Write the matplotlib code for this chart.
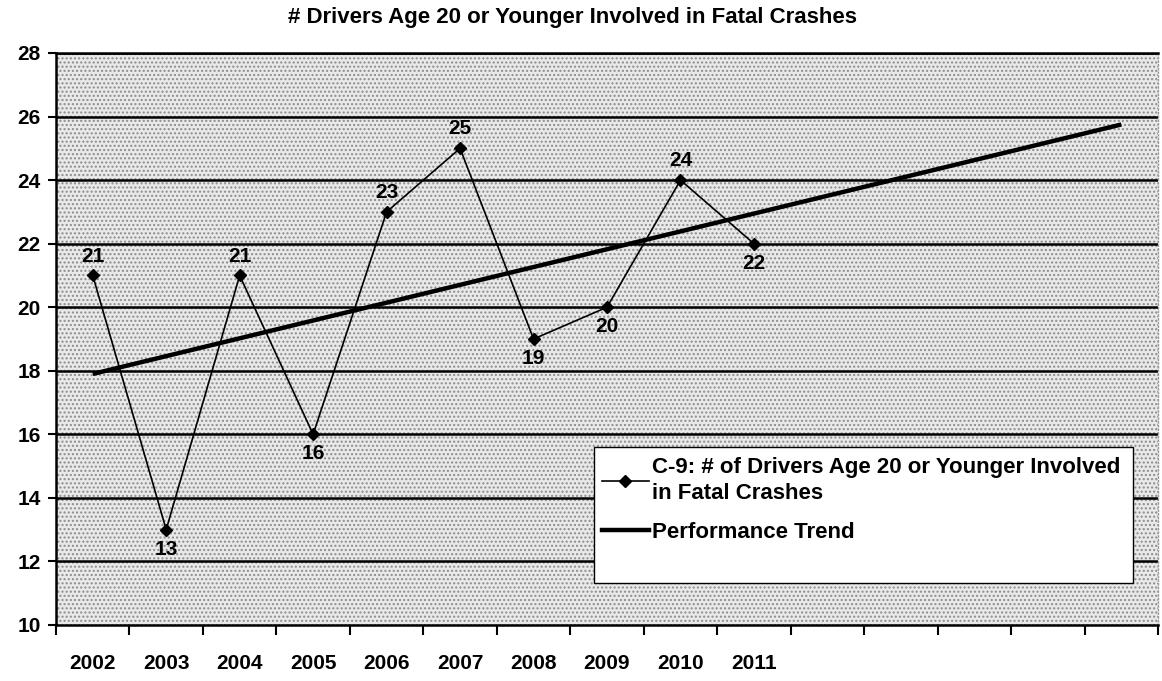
import matplotlib
matplotlib.use("Agg")
import matplotlib.pyplot as plt
from matplotlib.patches import Rectangle
from matplotlib.lines import Line2D

# dados
years = ["2002", "2003", "2004", "2005", "2006", "2007", "2008", "2009", "2010", "2011"]
n_slots = 15  # eixo com 15 categorias, so 10 com rotulo
drivers = [21, 13, 21, 16, 23, 25, 19, 20, 24, 22]
label_above = [True, False, True, False, True, True, False, False, True, False]
trend_x = [0, 14]
trend_y = [17.9, 25.75]

plt.rcParams['font.family'] = ['Liberation Sans', 'DejaVu Sans']
plt.rcParams['font.weight'] = 'bold'
plt.rcParams['hatch.linewidth'] = 1.0

W, H = 1162, 681
fig = plt.figure(figsize=(W / 100, H / 100), dpi=100)
fig.patch.set_facecolor('white')

left, right, top, bottom = 56, 1158, 53, 625
ax = fig.add_axes([left / W, 1 - bottom / H, (right - left) / W, (bottom - top) / H])

# fundo pontilhado
ax.set_facecolor('#e9e9e9')
ax.add_patch(Rectangle((0, 0), 1, 1, transform=ax.transAxes, facecolor='none',
                       edgecolor='#8c8c8c', hatch='....', lw=0, zorder=0))

ax.set_xlim(-0.5, n_slots - 0.5)
ax.set_ylim(10, 28)

# grade horizontal preta
for y in range(12, 29, 2):
    ax.axhline(y, color='black', lw=1.8, zorder=1)

x = list(range(len(years)))
ax.plot(x, drivers, color='black', lw=1.2, marker='D', markersize=6, zorder=3)
ax.plot(trend_x, trend_y, color='black', lw=3.2, zorder=2, solid_capstyle='butt')

for xi, v, up in zip(x, drivers, label_above):
    ax.annotate(str(v), (xi, v), textcoords='offset points',
                xytext=(0, 14 if up else -14), ha='center', va='center',
                fontsize=15, fontweight='bold', zorder=4)

# eixos
ax.set_yticks(range(10, 29, 2))
ax.tick_params(axis='y', length=6, width=1.5, direction='out', labelsize=15, pad=5)
ax.set_xticks([i - 0.5 for i in range(n_slots + 1)])
ax.set_xticklabels([])
ax.set_xticks(range(n_slots), minor=True)
ax.set_xticklabels(years + [''] * (n_slots - len(years)), minor=True, fontsize=15)
ax.tick_params(axis='x', which='major', length=7, width=1.5, direction='out')
ax.tick_params(axis='x', which='minor', length=0, pad=21)

for s in ['left', 'bottom', 'top']:
    ax.spines[s].set_color('black')
    ax.spines[s].set_linewidth(1.8)
ax.spines['right'].set_color('#999999')
ax.spines['right'].set_linestyle(':')
ax.spines['right'].set_linewidth(1)

fig.text(572 / W, 1 - 18 / H, '# Drivers Age 20 or Younger Involved in Fatal Crashes',
         ha='center', va='center', fontsize=16, fontweight='bold')

# caixa da legenda (maior que o conteudo, como no original)
box_l, box_t, box_r, box_b = 594, 447, 1133, 583
fig.patches.append(Rectangle((box_l / W, 1 - box_b / H), (box_r - box_l) / W, (box_b - box_t) / H,
                             transform=fig.transFigure, facecolor='white', edgecolor='black',
                             lw=1.0, zorder=4))

handles = [
    Line2D([], [], color='black', lw=1.2, marker='D', markersize=6),
    Line2D([], [], color='black', lw=3.2),
]
labels = ['C-9: # of Drivers Age 20 or Younger Involved\nin Fatal Crashes', 'Performance Trend']
leg = fig.legend(handles, labels, loc='upper left', bbox_to_anchor=(602 / W, 1 - 457 / H),
                 bbox_transform=fig.transFigure, fontsize=16, frameon=False,
                 handlelength=2.1, handletextpad=0.15, borderpad=0, labelspacing=0.8,
                 borderaxespad=0)
leg.set_zorder(5)
for t in leg.get_texts():
    t.set_linespacing(1.3)

fig.savefig('out.png', dpi=100)
